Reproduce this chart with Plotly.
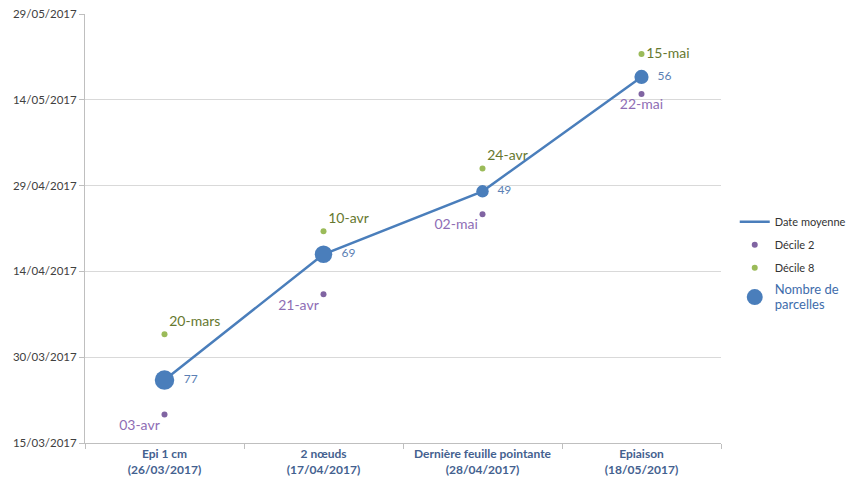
import plotly.graph_objects as go

categories = ["Epi 1 cm<br>(26/03/2017)", "2 nœuds<br>(17/04/2017)",
              "Dernière feuille pointante<br>(28/04/2017)", "Epiaison<br>(18/05/2017)"]
date_moyenne = ["2017-03-26", "2017-04-17", "2017-04-28", "2017-05-18"]
nb_parcelles = [77, 69, 49, 56]
decile2_dates = ["2017-03-20", "2017-04-10", "2017-04-24", "2017-05-15"]
decile2_labels = ["03-avr", "21-avr", "02-mai", "22-mai"]
decile8_dates = ["2017-04-03", "2017-04-21", "2017-05-02", "2017-05-22"]
decile8_labels = ["20-mars", "10-avr", "24-avr", "15-mai"]
y_ticks = ["2017-03-15", "2017-03-30", "2017-04-14", "2017-04-29", "2017-05-14", "2017-05-29"]

BLUE = "#4A7EBB"
PURPLE = "#8064A2"
GREEN = "#9BBB59"
FONT = "Lato"

fig = go.Figure()

fig.add_trace(go.Scatter(
    x=categories, y=date_moyenne, mode="lines", legendgroup="a",
    line=dict(color=BLUE, width=2.5), name="Date moyenne", hoverinfo="skip"))

fig.add_trace(go.Scatter(
    x=categories, y=decile2_dates, mode="markers+text", legendgroup="b",
    marker=dict(color=PURPLE, size=6), name="Décile 2",
    text=decile2_labels,
    textposition=["bottom left", "bottom left", "bottom left", "bottom center"],
    textfont=dict(color="#8E6DB5", size=14, family=FONT)))

fig.add_trace(go.Scatter(
    x=categories, y=decile8_dates, mode="markers+text", legendgroup="c",
    marker=dict(color=GREEN, size=6), name="Décile 8",
    text=decile8_labels,
    textposition=["top right", "top right", "top right", "middle right"],
    textfont=dict(color="#66782F", size=14, family=FONT)))

fig.add_trace(go.Scatter(
    x=categories, y=date_moyenne, mode="markers+text",
    marker=dict(color=BLUE, size=nb_parcelles, sizemode="diameter",
                sizeref=77 / 19.5, line=dict(width=0), opacity=1),
    text=[f"  {v}" for v in nb_parcelles], textposition="middle right",
    textfont=dict(color="#5B7FB4", size=12, family=FONT),
    name="Nombre de parcelles", showlegend=False))

# legend entry for bubbles
fig.add_trace(go.Scatter(
    x=[None], y=[None], mode="markers", legendgroup="d",
    marker=dict(color=BLUE, size=16, opacity=1),
    name="<span style='color:#3E6CAB;font-size:13px'>Nombre de<br>parcelles</span>"))

fig.update_layout(
    width=862, height=484,
    margin=dict(l=85, r=140, t=14, b=41),
    paper_bgcolor="white", plot_bgcolor="white",
    font=dict(family=FONT, color="#404040"),
    showlegend=True,
    legend=dict(x=1.02, y=0.42, xanchor="left", yanchor="middle",
                traceorder="grouped",
                font=dict(size=11, color="#333333", family=FONT),
                tracegroupgap=4, bgcolor="rgba(0,0,0,0)"),
    xaxis=dict(type="category", range=[-0.5, 3.5], showgrid=False, automargin=False,
               showline=True, linecolor="#BFBFBF", linewidth=1,
               ticks="outside", tickson="boundaries", ticklen=5, tickcolor="#BFBFBF",
               tickfont=dict(size=12, color="#44618F", family=FONT, weight="bold"),
               zeroline=False),
    yaxis=dict(type="date", range=["2017-03-15", "2017-05-29"], automargin=False,
               tickvals=y_ticks, tickformat="%d/%m/%Y",
               showgrid=True, gridcolor="#D9D9D9", gridwidth=1,
               showline=True, linecolor="#BFBFBF", linewidth=1,
               ticks="outside", ticklen=5, tickcolor="#BFBFBF",
               tickfont=dict(size=11.5, color="#404040", family=FONT),
               zeroline=False),
)

fig.write_html("out.html")
